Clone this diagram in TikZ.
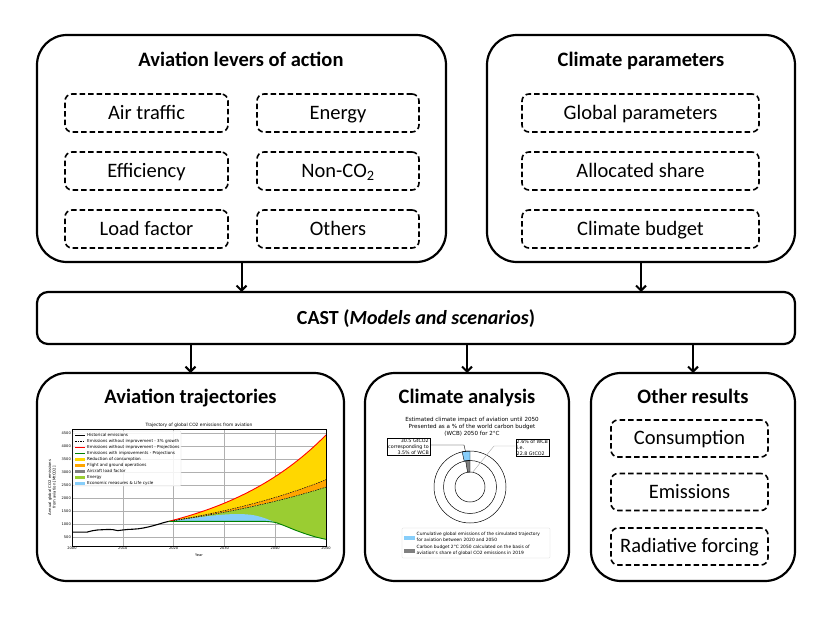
\documentclass[tikz,border=0pt]{standalone}
\usepackage{fontspec}
\setmainfont{Carlito}
\newfontfamily\mpl{DejaVu Sans}
\usetikzlibrary{arrows.meta,calc}
\definecolor{cyel}{HTML}{FFD700}
\definecolor{corg}{HTML}{FFA500}
\definecolor{cgrn}{HTML}{9ACD32}
\definecolor{cblu}{HTML}{87CEFA}
\definecolor{cgry}{HTML}{808080}
\definecolor{cdgr}{HTML}{008000}
\definecolor{cgrid}{HTML}{B0B0B0}
\tikzset{
  bigbox/.style={draw, line width=2.2pt, rounded corners=30pt, inner sep=0pt, outer sep=0pt},
  castbox/.style={draw, line width=2.2pt, rounded corners=11pt, inner sep=0pt, outer sep=0pt},
  dbox/.style={draw, line width=1.6pt, dash pattern=on 5.5pt off 3pt, rounded corners=7pt, inner sep=0pt, outer sep=0pt, font=\fontsize{20.5}{23}\selectfont, text height=14pt, text depth=1.5pt},
  ttl/.style={font=\fontsize{20.5}{23}\selectfont\bfseries, text height=14pt, text depth=1.5pt},
  arr/.style={line width=2pt, -{Straight Barb[length=5pt,width=10pt]}},
  tick/.style={font=\mpl\fontsize{3.6}{4}\selectfont, inner sep=1pt},
  lgt/.style={font=\mpl\fontsize{4.1}{4.5}\selectfont, anchor=west, inner sep=0pt},
  declare function={fred(\t)=1100*exp(0.0449*(\t-19)); fda(\t)=1100*exp(0.029*(\t-19)); fdb(\t)=1100*exp(0.0254*(\t-19));}
}
\begin{document}
\begin{tikzpicture}[x=1pt,y=1pt]
\useasboundingbox (0,0) rectangle (830,-623);

% ---------- big boxes ----------
\node[bigbox, minimum width=409pt, minimum height=227pt] (lev) at (241.5,-148.5) {};
\node[bigbox, minimum width=308pt, minimum height=227pt] (par) at (641,-148.5) {};
\node[castbox, minimum width=758pt, minimum height=52pt] (cast) at (416,-318) {};
\node[bigbox, minimum width=307pt, minimum height=208pt] (traj) at (190.5,-477) {};
\node[bigbox, minimum width=204pt, minimum height=208pt] (clim) at (467,-477) {};
\node[bigbox, minimum width=204pt, minimum height=208pt] (oth) at (693,-477) {};

% ---------- titles ----------
\node[ttl] (levt) at (241,-60) {Aviation levers of action};
\node[ttl] (part) at (641,-60) {Climate parameters};
\node[ttl, font=\fontsize{20}{23}\selectfont\bfseries] (castt) at (416,-318) {CAST (\textit{Models and scenarios})};
\node[ttl] (trajt) at (190.5,-397) {Aviation trajectories};
\node[ttl] (climt) at (467,-397) {Climate analysis};
\node[ttl] (otht) at (693,-397) {Other results};

% ---------- dashed boxes ----------
\node[dbox, minimum width=163pt, minimum height=38pt] (air) at (146.5,-113) {Air traffic};
\node[dbox, minimum width=162pt, minimum height=38pt] (ene) at (338,-113) {Energy};
\node[dbox, minimum width=163pt, minimum height=38pt] (eff) at (146.5,-171) {Efficiency};
\node[dbox, minimum width=162pt, minimum height=38pt] (nco) at (338,-171) {Non-CO\textsubscript{2}};
\node[dbox, minimum width=163pt, minimum height=38pt] (loa) at (146.5,-229) {Load factor};
\node[dbox, minimum width=162pt, minimum height=38pt] (oths) at (338,-229) {Others};

\node[dbox, minimum width=237pt, minimum height=38pt] (glo) at (640.5,-113) {Global parameters};
\node[dbox, minimum width=237pt, minimum height=38pt] (all) at (640.5,-171) {Allocated share};
\node[dbox, minimum width=237pt, minimum height=38pt] (bud) at (640.5,-229) {Climate budget};

\node[dbox, minimum width=157pt, minimum height=37pt] (con) at (689.5,-438.5) {Consumption};
\node[dbox, minimum width=157pt, minimum height=37pt] (emi) at (689.5,-492) {Emissions};
\node[dbox, minimum width=157pt, minimum height=37pt] (rad) at (689.5,-546.5) {Radiative forcing};

% ---------- arrows ----------
\draw[arr] (lev.south) -- (lev.south |- cast.north);
\draw[arr] (par.south) -- (par.south |- cast.north);
\draw[arr] (cast.south -| traj.north) -- (traj.north);
\draw[arr] (cast.south -| clim.north) -- (clim.north);
\draw[arr] (cast.south -| oth.north) -- (oth.north);

% ---------- trajectory chart ----------
\node[font=\mpl\fontsize{4.4}{5}\selectfont] (chtitle) at (199,-425.5) {Trajectory of global CO2 emissions from aviation};
\begin{scope}[x=5.08pt, y=0.026pt, shift={(72pt,-550pt)}]
  \foreach \t in {0,10,...,50} \draw[cgrid, line width=0.3pt] (\t,150) -- (\t,4650);
  \foreach \v in {500,1000,...,4500} \draw[cgrid, line width=0.3pt] (0,\v) -- (50,\v);
  % fills
  \fill[cyel] plot[domain=19:50,samples=40] (\x,{fred(\x)}) -- plot[domain=50:19,samples=40] (\x,{fda(\x)}) -- cycle;
  \fill[corg] plot[domain=19:50,samples=40] (\x,{fda(\x)}) -- plot[domain=50:19,samples=40] (\x,{fdb(\x)}) -- cycle;
  \fill[cgrn] plot[domain=19:50,samples=40] (\x,{fdb(\x)}) -- plot[smooth] coordinates {(50,410) (48,500) (46,620) (44,760) (42,920) (40,1060) (38,1100)} -- (19,1100) -- cycle;
  \fill[cblu] plot[smooth] coordinates {(19,1100) (22,1180) (25,1260) (28,1330) (31,1375) (34,1375) (36,1330) (38,1220) (40,1060)} -- (38,1100) -- (19,1100) -- cycle;
  % lines
  \draw[black, line width=0.5pt, dash pattern=on 1.5pt off 1pt] plot[domain=19:50,samples=40] (\x,{fda(\x)});
  \draw[black, line width=0.5pt, dash pattern=on 1.5pt off 1pt] plot[domain=19:50,samples=40] (\x,{fdb(\x)});
  \draw[red, line width=0.9pt] plot[domain=19:50,samples=40] (\x,{fred(\x)});
  \draw[cdgr, line width=0.9pt] (19,1100) -- (38,1100) plot[smooth] coordinates {(38,1100) (40,1060) (42,920) (44,760) (46,620) (48,500) (50,410)};
  \draw[black, line width=1.1pt] plot coordinates {(0,690) (1,690) (2,685) (3,690) (4,740) (5,770) (6,780) (7,790) (8,785) (9,745) (10,770) (11,790) (12,800) (13,815) (14,845) (15,885) (16,935) (17,990) (18,1050) (19,1100)};
  % frame and ticks
  \draw[black, line width=0.4pt] (0,150) rectangle (50,4650);
  \foreach \t in {0,10,...,50} \node[tick, below] at (\t,150) {\the\numexpr2000+\t\relax};
  \foreach \v in {500,1000,...,4500} \node[tick, left] at (0,\v) {\v};
  \node[tick, below] (yearlab) at (25,-120) {Year};
  \node[font=\mpl\fontsize{3.8}{4.3}\selectfont, rotate=90, align=center] (ylab) at (-3.9,2400) {Annual global CO2 emissions\\from aviation [MtCO2]};
\end{scope}
% legend
\draw[cgrid!60, line width=0.3pt, fill=white, fill opacity=0.85, rounded corners=1pt] (73,-431) rectangle (181,-486);
\draw[black, line width=0.9pt] (75,-435) -- (85,-435);
\draw[black, line width=0.6pt, dash pattern=on 1.5pt off 1pt] (75,-441) -- (85,-441);
\draw[red, line width=0.9pt] (75,-447) -- (85,-447);
\draw[cdgr, line width=0.9pt] (75,-453) -- (85,-453);
\fill[cyel] (75,-457.5) rectangle (85,-460.5);
\fill[corg] (75,-463.5) rectangle (85,-466.5);
\fill[cgry] (75,-469.5) rectangle (85,-472.5);
\fill[cgrn] (75,-475.5) rectangle (85,-478.5);
\fill[cblu] (75,-481.5) rectangle (85,-484.5);
\node[lgt] (l1) at (87,-435) {Historical emissions};
\node[lgt] (l2) at (87,-441) {Emissions without improvement - 3\% growth};
\node[lgt] (l3) at (87,-447) {Emissions without improvement - Projections};
\node[lgt] (l4) at (87,-453) {Emissions with improvements - Projections};
\node[lgt] (l5) at (87,-459) {Reduction of consumption};
\node[lgt] (l6) at (87,-465) {Flight and ground operations};
\node[lgt] (l7) at (87,-471) {Aircraft load factor};
\node[lgt] (l8) at (87,-477) {Energy};
\node[lgt] (l9) at (87,-483) {Economic measures \& Life cycle};

% ---------- climate analysis chart ----------
\node[font=\mpl\fontsize{5.6}{6.9}\selectfont, align=center] (cht) at (472,-427) {Estimated climate impact of aviation until 2050\\Presented as a \% of the world carbon budget\\(WCB) 2050 for 2°C};
\coordinate (dc) at (470,-487);
\fill[cblu, draw=black, line width=0.4pt] ($(dc)+(90:36)$) arc (90:102.6:36) -- ($(dc)+(102.6:26.5)$) arc (102.6:90:26.5) -- cycle;
\fill[cgry, draw=black, line width=0.4pt] ($(dc)+(90:26.5)$) arc (90:99.4:26.5) -- ($(dc)+(99.4:15)$) arc (99.4:90:15) -- cycle;
\draw[line width=0.5pt] (dc) circle (36);
\draw[line width=0.5pt] (dc) circle (26.5);
\draw[line width=0.5pt] (dc) circle (15);
\node[draw, line width=0.4pt, inner sep=1pt, align=right, font=\mpl\fontsize{4.8}{5.8}\selectfont, anchor=east] (lb) at (430,-446.5) {30.5 GtCO2\\corresponding to\\3.5\% of WCB};
\node[draw, line width=0.4pt, inner sep=1pt, align=left, font=\mpl\fontsize{4.8}{5.8}\selectfont, anchor=west] (rb) at (515.5,-447.5) {2.6\% of WCB\\i.e.\\22.8 GtCO2};
\coordinate (lk) at (464,-445);
\coordinate (rk) at (494,-446);
\draw[line width=0.4pt] (lb.east |- lk) -- (lk) -- (465.5,-451.5);
\draw[black!35, line width=0.4pt] (rb.west |- rk) -- (rk) -- (472,-473);
% legend
\draw[cgrid!60, line width=0.3pt, rounded corners=1pt] (402,-528) rectangle (550,-558);
\fill[cblu] (404,-535.5) rectangle (415,-539.5);
\fill[cgry] (404,-548.5) rectangle (415,-552.5);
\node[font=\mpl\fontsize{4.4}{6}\selectfont, anchor=west, align=left, inner sep=0pt] (dl1) at (416.5,-537) {Cumulative global emissions of the simulated trajectory\\for aviation between 2020 and 2050};
\node[font=\mpl\fontsize{4.4}{6}\selectfont, anchor=west, align=left, inner sep=0pt] (dl2) at (416.5,-550) {Carbon budget 2°C 2050 calculated on the basis of\\aviation's share of global CO2 emissions in 2019};
\end{tikzpicture}
\end{document}
